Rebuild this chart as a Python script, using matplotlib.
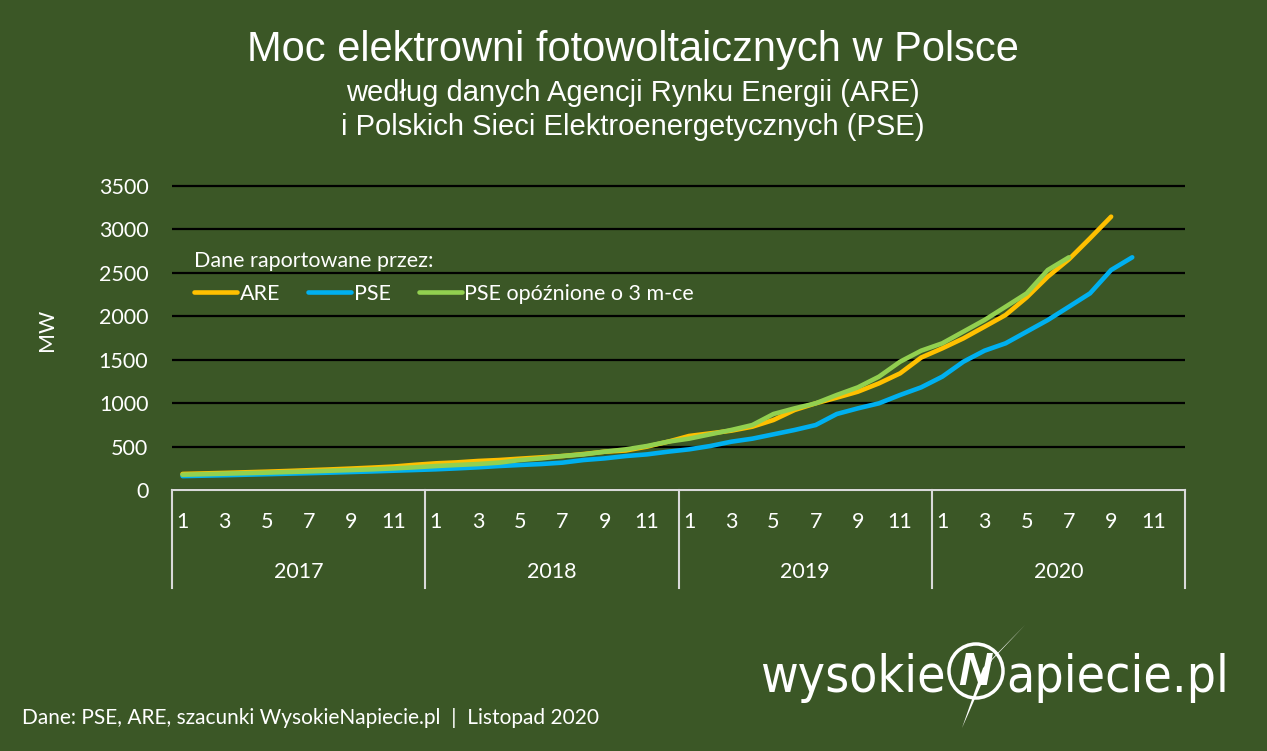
import numpy as np
import matplotlib
matplotlib.use('Agg')
import matplotlib.pyplot as plt
from matplotlib.patches import Circle, Polygon
from matplotlib.transforms import blended_transform_factory

# dane (MW), miesiace od 2017-01
lata = ['2017', '2018', '2019', '2020']
miesiace = [1, 2, 3, 4, 5, 6, 7, 8, 9, 10, 11, 12]
are = [185, 191, 197, 204, 211, 219, 228, 237, 247, 258, 270, 290,
       307, 318, 334, 345, 361, 376, 391, 414, 441, 455, 499, 556,
       622, 652, 683, 729, 806, 921, 998, 1063, 1132, 1228, 1343, 1525,
       1631, 1746, 1880, 2015, 2218, 2456, 2656, 2898, 3147]
pse = [160, 165, 170, 176, 182, 188, 194, 200, 207, 214, 222, 230,
       238, 249, 261, 276, 288, 299, 315, 345, 364, 391, 410, 441,
       468, 506, 556, 591, 641, 691, 748, 875, 940, 998, 1094, 1182,
       1305, 1477, 1604, 1689, 1823, 1957, 2110, 2264, 2533, 2679]
pse_opoz = [176, 182, 188, 194, 200, 207, 214, 222, 230,
            238, 249, 261, 276, 288, 299, 315, 345, 364, 391, 410, 441,
            468, 506, 556, 591, 641, 691, 748, 875, 940, 998, 1094, 1182,
            1305, 1477, 1604, 1689, 1823, 1957, 2110, 2264, 2533, 2679]

tlo = '#3b5726'
W, H = 1267, 751
fs = 15.5
plt.rcParams['font.family'] = ['Lato', 'DejaVu Sans']

fig = plt.figure(figsize=(W / 100, H / 100), dpi=100, facecolor=tlo)

# warstwa na napisy i logo, w pikselach
bg = fig.add_axes([0, 0, 1, 1])
bg.set_xlim(0, W)
bg.set_ylim(H, 0)
bg.axis('off')

ymax = 3600
top_px = 490 - 304 * ymax / 3500
ax = fig.add_axes([172 / W, 1 - 490 / H, 1013 / W, (490 - top_px) / H])
ax.set_facecolor('none')

x = np.arange(len(lata) * len(miesiace))
ax.plot(x[:len(are)], are, color='#FFC000', lw=3.3, label='ARE', solid_capstyle='round', zorder=3)
ax.plot(x[:len(pse)], pse, color='#00B0F0', lw=3.3, label='PSE', solid_capstyle='round', zorder=3)
ax.plot(x[:len(pse_opoz)], pse_opoz, color='#92D050', lw=3.3, label='PSE opóźnione o 3 m-ce',
        solid_capstyle='round', zorder=4)

ax.set_xlim(-0.5, len(x) - 0.5)
ax.set_ylim(0, ymax)
ax.set_yticks(range(0, 3501, 500))
ax.grid(axis='y', color='black', lw=1.6)
ax.set_axisbelow(True)
for s in ax.spines.values():
    s.set_visible(False)
ax.spines['bottom'].set_visible(True)
ax.spines['bottom'].set_color('#d9d9d9')
ax.spines['bottom'].set_linewidth(1.5)
ax.spines['bottom'].set_zorder(2)
ax.tick_params(axis='y', length=0, pad=17, colors='white', labelsize=fs)

# miesiace nieparzyste jako etykiety
pos = [i for i in x if miesiace[i % 12] % 2 == 1]
ax.set_xticks(pos)
ax.set_xticklabels([str(miesiace[i % 12]) for i in pos])
ax.tick_params(axis='x', length=0, pad=16, colors='white', labelsize=fs)

tr = blended_transform_factory(ax.transData, ax.transAxes)
sc = 304 * ymax / 3500
for k, rok in enumerate(lata):
    ax.text(12 * k + 5.5, -(572 - 490) / sc, rok, transform=tr, ha='center', va='center',
            color='white', fontsize=fs)
for k in range(len(lata) + 1):
    ax.plot([12 * k - 0.5, 12 * k - 0.5], [0, -(588 - 490) / sc], transform=tr,
            color='#d9d9d9', lw=1.5, clip_on=False)

bg.text(47, 330, 'MW', rotation=90, ha='center', va='center', color='white', fontsize=fs)

leg = ax.legend(loc='upper left', bbox_to_anchor=(194 / W, 1 - 251 / H), bbox_transform=fig.transFigure,
                ncol=3, frameon=False, title='Dane raportowane przez:', alignment='left',
                fontsize=fs, title_fontsize=fs, handlelength=2.0, handletextpad=0.12,
                columnspacing=1.3, borderaxespad=0, borderpad=0, labelspacing=0.6)
for t in leg.get_texts():
    t.set_color('white')
leg.get_title().set_color('white')

# tytuly
bg.text(633, 50, 'Moc elektrowni fotowoltaicznych w Polsce', ha='center', va='center',
        color='white', fontsize=30, family=['Liberation Sans', 'DejaVu Sans'])
bg.text(633, 93, 'według danych Agencji Rynku Energii (ARE)', ha='center', va='center',
        color='white', fontsize=21, family=['Liberation Sans', 'DejaVu Sans'])
bg.text(633, 127, 'i Polskich Sieci Elektroenergetycznych (PSE)', ha='center', va='center',
        color='white', fontsize=21, family=['Liberation Sans', 'DejaVu Sans'])

bg.text(22, 718, 'Dane: PSE, ARE, szacunki WysokieNapiecie.pl  |  Listopad 2020', ha='left',
        va='center', color='white', fontsize=15)

# logo
logo_font = ['Liberation Sans Narrow', 'DejaVu Sans']
bg.text(946, 692, 'wysokie', ha='right', va='baseline', color='white', fontsize=37,
        family=logo_font, stretch='condensed')
bg.text(1006, 692, 'apiecie.pl', ha='left', va='baseline', color='white', fontsize=37,
        family=logo_font, stretch='condensed')
bg.add_patch(Circle((976, 671), 27, fill=False, ec='white', lw=2.5))
bg.text(975, 673, 'N', ha='center', va='center', color='white', fontsize=33, weight='bold',
        style='italic', family=['Liberation Sans', 'DejaVu Sans'])
bg.add_patch(Polygon([(1025, 625), (992, 660), (962, 728), (983, 668)], closed=True,
                     fc='white', ec='none'))

fig.savefig('out.png', dpi=100, facecolor=tlo)
